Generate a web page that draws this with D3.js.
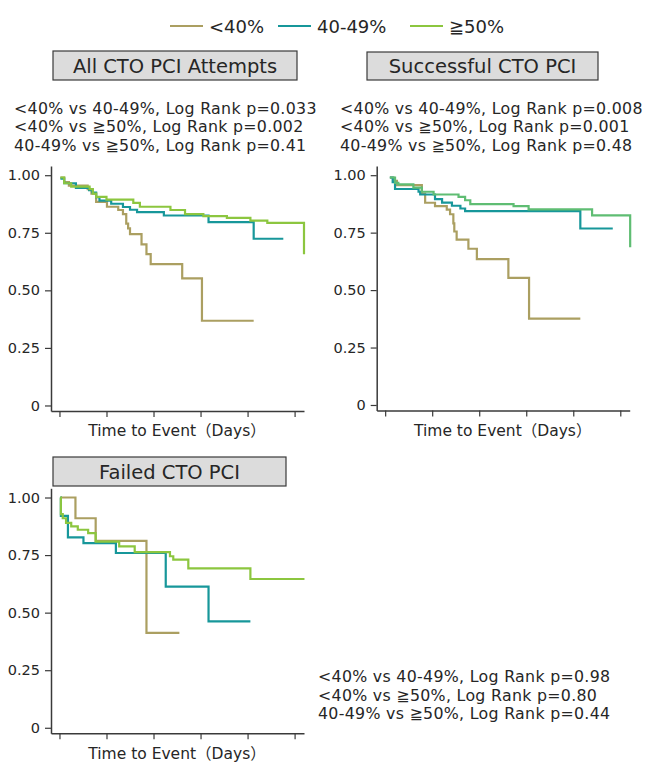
<!DOCTYPE html>
<html>
<head>
<meta charset="utf-8">
<script src="https://cdn.jsdelivr.net/npm/d3@7"></script>
<style>
  html, body { margin: 0; padding: 0; background: #fff; }
  svg { display: block; }
  text { font-family: "DejaVu Sans", "Noto Sans CJK JP", sans-serif; fill: #262626; }
</style>
</head>
<body>
<svg id="chart" width="651" height="762"></svg>
<script>
// ---------------- DATA ----------------
const groups = ["<40%", "40-49%", "≧50%"];
const panelTitles = ["All CTO PCI Attempts", "Successful CTO PCI", "Failed CTO PCI"];
const xLabel = "Time to Event（Days）";
const yTicks = [0, 0.25, 0.5, 0.75, 1];
const xTicks = [0, 1, 2, 3, 4, 5];
const comparisons = ["<40% vs 40-49%", "<40% vs ≧50%", "40-49% vs ≧50%"];
const pAll = ["0.033", "0.002", "0.41"];
const pSuccess = ["0.008", "0.001", "0.48"];
const pFailed = ["0.98", "0.80", "0.44"];

// survival curves: [time, survival]
const allLt40 = [[0.02,0.99],[0.1,0.97],[0.2,0.955],[0.6,0.94],[0.68,0.92],[0.78,0.884],[1.01,0.863],[1.25,0.849],[1.35,0.831],[1.42,0.79],[1.46,0.769],[1.5,0.744],[1.745,0.70],[1.85,0.657],[1.94,0.614],[2.61,0.552],[3.03,0.368],[4.13,0.368]];
const all4049 = [[0.02,0.985],[0.1,0.965],[0.35,0.945],[0.63,0.935],[0.7,0.925],[0.78,0.905],[0.85,0.89],[1.1,0.876],[1.35,0.862],[1.5,0.85],[1.65,0.84],[2.22,0.825],[3.17,0.796],[4.13,0.724],[4.76,0.724]];
const allGe50 = [[0.02,0.99],[0.1,0.965],[0.25,0.95],[0.64,0.94],[0.71,0.92],[0.78,0.906],[1.0,0.894],[1.57,0.88],[1.71,0.863],[2.36,0.849],[2.67,0.831],[3.06,0.822],[3.56,0.815],[4.06,0.803],[4.42,0.793],[5.2,0.657]];

const sucLt40 = [[0.1,0.99],[0.18,0.975],[0.25,0.957],[0.78,0.92],[0.85,0.88],[1.06,0.865],[1.31,0.85],[1.38,0.83],[1.45,0.79],[1.47,0.755],[1.52,0.72],[1.77,0.68],[1.95,0.635],[2.62,0.553],[3.06,0.376],[4.15,0.376]];
const suc4049 = [[0.1,0.99],[0.16,0.97],[0.21,0.94],[0.71,0.928],[0.745,0.916],[1.06,0.896],[1.21,0.881],[1.42,0.867],[1.6,0.855],[1.7,0.844],[4.15,0.768],[4.84,0.768]];
const sucGe50 = [[0.1,0.99],[0.21,0.967],[0.28,0.96],[0.6,0.946],[0.78,0.928],[1.03,0.916],[1.56,0.906],[1.7,0.891],[1.81,0.874],[2.73,0.865],[3.05,0.851],[4.4,0.825],[5.21,0.686]];

const failLt40 = [[0.02,1.0],[0.34,0.91],[0.77,0.812],[1.85,0.412],[2.55,0.412]];
const fail4049 = [[0.02,1.0],[0.03,0.92],[0.18,0.827],[0.51,0.802],[1.2,0.759],[2.26,0.613],[3.17,0.462],[4.06,0.462]];
const failGe50 = [[0.02,1.0],[0.03,0.928],[0.07,0.91],[0.14,0.89],[0.25,0.875],[0.39,0.86],[0.61,0.845],[0.77,0.808],[1.27,0.788],[1.6,0.763],[2.35,0.745],[2.42,0.73],[2.74,0.692],[4.06,0.646],[5.21,0.646]];

// ---------------- STYLE ----------------
const colors = ["#ab9f61", "#17979a", "#8cc63f"];
const panel2Green = "#5fbd73";
const axisColor = "#3a3a3a";

const svg = d3.select("#chart");

// ---------------- LEGEND ----------------
const legendItems = [
  { line: [170, 203], text: 209 },
  { line: [278, 311], text: 317 },
  { line: [410, 443], text: 449 }
];
groups.forEach((g, i) => {
  const it = legendItems[i];
  svg.append("line")
    .attr("x1", it.line[0]).attr("x2", it.line[1])
    .attr("y1", 26).attr("y2", 26)
    .attr("stroke", colors[i]).attr("stroke-width", 2.2);
  svg.append("text")
    .attr("x", it.text).attr("y", 33)
    .attr("font-size", 18)
    .text(g);
});

// ---------------- PANELS ----------------
const panels = [
  { title: panelTitles[0], box: [53, 51, 244, 29], axisX: [51, 304], axisY: [411, 166],
    series: [allLt40, all4049, allGe50], cols: colors,
    pvals: pAll, statX: 14, statY: [113.5, 132, 150.5], labelY: 436 },
  { title: panelTitles[1], box: [367, 52, 231, 28], axisX: [376.7, 629.7], axisY: [410.5, 166],
    series: [sucLt40, suc4049, sucGe50], cols: [colors[0], colors[1], panel2Green],
    pvals: pSuccess, statX: 340, statY: [113.5, 132, 150.5], labelY: 436 },
  { title: panelTitles[2], box: [53, 457, 233, 29], axisX: [51, 304], axisY: [733.3, 488.3],
    series: [failLt40, fail4049, failGe50], cols: colors,
    pvals: pFailed, statX: 318, statY: [682, 700.5, 719], labelY: 759 }
];

panels.forEach(p => {
  const x = d3.scaleLinear().domain([-0.18, 5.2]).range(p.axisX);
  const y = d3.scaleLinear().domain([-0.024, 1.04]).range(p.axisY);

  // title box
  svg.append("rect")
    .attr("x", p.box[0]).attr("y", p.box[1])
    .attr("width", p.box[2]).attr("height", p.box[3])
    .attr("fill", "#dcdcdc").attr("stroke", "#3a3a3a").attr("stroke-width", 1.2);
  svg.append("text")
    .attr("x", p.box[0] + p.box[2] / 2)
    .attr("y", p.box[1] + p.box[3] / 2 + 7)
    .attr("text-anchor", "middle")
    .attr("font-size", 19.5)
    .text(p.title);

  // stats text
  comparisons.forEach((c, i) => {
    svg.append("text")
      .attr("x", p.statX).attr("y", p.statY[i])
      .attr("font-size", 15.8)
      .attr("letter-spacing", 0.3)
      .text(`${c}, Log Rank p=${p.pvals[i]}`);
  });

  // y axis
  const yAxis = d3.axisLeft(y).tickValues(yTicks).tickSize(6).tickSizeOuter(0).tickPadding(5)
    .tickFormat(d => d === 0 ? "0" : d3.format(".2f")(d));
  const gy = svg.append("g").attr("transform", `translate(${p.axisX[0]},0)`).call(yAxis);
  gy.selectAll("text").attr("font-size", 14.5).attr("font-family", "DejaVu Sans").attr("fill", "#262626");

  // x axis
  const xAxis = d3.axisBottom(x).tickValues(xTicks).tickSize(6).tickSizeOuter(0).tickFormat("");
  const gx = svg.append("g").attr("transform", `translate(0,${p.axisY[0]})`).call(xAxis);

  [gx, gy].forEach(g => {
    g.select(".domain").attr("stroke", axisColor).attr("stroke-width", 1.5);
    g.selectAll(".tick line").attr("stroke", axisColor).attr("stroke-width", 1.2);
  });

  // x label
  svg.append("text")
    .attr("x", (x(0) + x(5)) / 2).attr("y", p.labelY)
    .attr("text-anchor", "middle")
    .attr("font-size", 15.5)
    .text(xLabel);

  // curves
  const line = d3.line().x(d => x(d[0])).y(d => y(d[1])).curve(d3.curveStepAfter);
  p.series.forEach((s, i) => {
    svg.append("path")
      .datum(s)
      .attr("d", line)
      .attr("fill", "none")
      .attr("stroke", p.cols[i])
      .attr("stroke-width", 2.2);
  });
});
</script>
</body>
</html>
